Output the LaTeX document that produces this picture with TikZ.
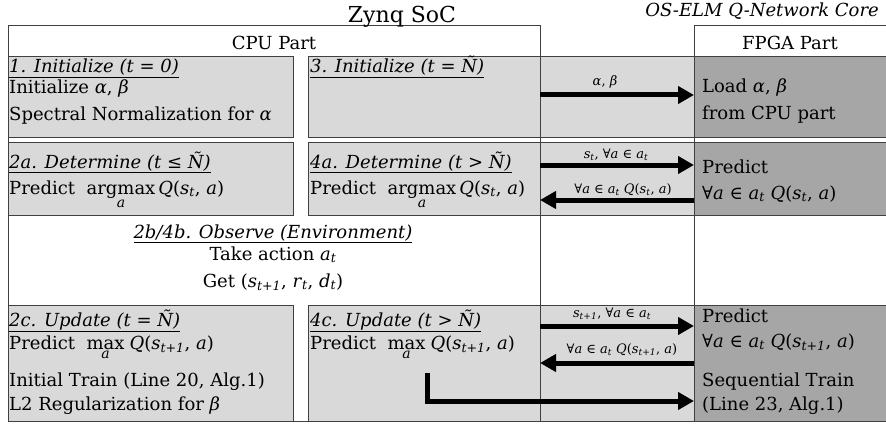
\documentclass[tikz,border=0pt]{standalone}
\usepackage{fontspec}
\setmainfont{DejaVu Serif}
\usetikzlibrary{arrows.meta}
\definecolor{lineC}{HTML}{404040}
\definecolor{lightG}{HTML}{D9D9D9}
\definecolor{darkG}{HTML}{A6A6A6}
\newcommand{\vi}[1]{\textit{#1}}
\newcommand{\sbs}[1]{\textsubscript{\itshape #1}}
\newcommand{\limop}[3]{$\mathop{\hbox{#1}}\limits_{\hbox{\fontsize{#3}{#3}\selectfont\itshape #2}}$}
\begin{document}
\begin{tikzpicture}[x=1pt,y=-1pt,
  lbox/.style={draw=lineC, fill=lightG, line width=1pt, inner sep=0pt, outer sep=0pt, anchor=north west},
  dbox/.style={draw=lineC, fill=darkG, line width=1pt, inner sep=0pt, outer sep=0pt, anchor=north west},
  frm/.style={draw=lineC, line width=1pt},
  txt/.style={anchor=base west, inner sep=0pt, font=\fontsize{18}{21}\selectfont},
  ctxt/.style={anchor=base, inner sep=0pt, font=\fontsize{18}{21}\selectfont},
  lbl/.style={anchor=base, inner sep=0pt, font=\fontsize{13}{15}\selectfont},
  bigarrow/.style={line width=5pt, -{Triangle[length=16pt,width=17pt]}},
]
\useasboundingbox (0,0) rectangle (886,425);
% frames
\path[frm] (8,26) rectangle (540,421);
\path[frm] (694,26) rectangle (890,421);
% row 1
\node[lbox, minimum width=285pt, minimum height=81pt] (b1) at (8,57) {};
\node[lbox, minimum width=386pt, minimum height=81pt] (b3) at (308,57) {};
\node[dbox, minimum width=196pt, minimum height=81pt] (f1) at (694,57) {};
% row 2
\node[lbox, minimum width=285pt, minimum height=72pt] (b2a) at (8,143) {};
\node[lbox, minimum width=386pt, minimum height=72pt] (b4a) at (308,143) {};
\node[dbox, minimum width=196pt, minimum height=72pt] (f2) at (694,143) {};
% row 3
\node[lbox, minimum width=285pt, minimum height=116pt] (b2c) at (8,305) {};
\node[lbox, minimum width=386pt, minimum height=116pt] (b4c) at (308,305) {};
\node[dbox, minimum width=196pt, minimum height=116pt] (f3) at (694,305) {};
% zynq boundary on top
\draw[lineC, line width=1pt] (540,26) -- (540,421);
% titles
\node[anchor=base, inner sep=0pt, font=\fontsize{22}{24}\selectfont] (title) at (402,23) {Zynq SoC};
\node[anchor=base east, inner sep=0pt, font=\itshape\fontsize{18}{20}\selectfont] (core) at (879,17) {OS-ELM Q-Network Core};
\node[ctxt] (cpu) at (274,50) {CPU Part};
\node[ctxt] (fpga) at (790,50) {FPGA Part};
% box 1
\node[txt] (t11) at (9,73) {\underline{\textit{1. Initialize (t = 0)}}};
\node[txt] (t12) at (9,94) {Initialize \vi{α}, \vi{β}};
\node[txt] (t13) at (9,121) {Spectral Normalization for \vi{α}};
% box 3
\node[txt] (t31) at (310,73) {\underline{\textit{3. Initialize (t = Ñ)}}};
% fpga 1
\node[txt] (f11) at (702,93) {Load \vi{α}, \vi{β}};
\node[txt] (f12) at (702,120) {from CPU part};
% box 2a
\node[txt] (t2a1) at (9,168) {\underline{\textit{2a. Determine (t ≤ Ñ)}}};
\node[txt] (t2a2) at (9,194) {Predict\ \ \limop{argmax}{a}{14}\,\vi{Q}(\vi{s}\sbs{t}, \vi{a})};
% box 4a
\node[txt] (t4a1) at (310,168) {\underline{\textit{4a. Determine (t > Ñ)}}};
\node[txt] (t4a2) at (310,194) {Predict\ \ \limop{argmax}{a}{14}\,\vi{Q}(\vi{s}\sbs{t}, \vi{a})};
% fpga 2
\node[txt] (f21) at (702,173) {Predict};
\node[txt] (f22) at (702,199) {∀\vi{a} ∈ \vi{a}\sbs{t} \vi{Q}(\vi{s}\sbs{t}, \vi{a})};
% observe
\node[ctxt] (o1) at (273,238) {\underline{\textit{2b/4b. Observe (Environment)}}};
\node[ctxt] (o2) at (273,260) {Take action \vi{a}\sbs{t}};
\node[ctxt] (o3) at (273,287) {Get (\vi{s}\sbs{t+1}, \vi{r}\sbs{t}, \vi{d}\sbs{t})};
% box 2c
\node[txt] (t2c1) at (9,326) {\underline{\textit{2c. Update (t = Ñ)}}};
\node[txt] (t2c2) at (9,349) {Predict\ \ \limop{max}{a}{14}\;\vi{Q}(\vi{s}\sbs{t+1}, \vi{a})};
\node[txt] (t2c3) at (9,386) {Initial Train (Line 20, Alg.1)};
\node[txt] (t2c4) at (9,410) {L2 Regularization for \vi{β}};
% box 4c
\node[txt] (t4c1) at (310,326) {\underline{\textit{4c. Update (t > Ñ)}}};
\node[txt] (t4c2) at (310,349) {Predict\ \ \limop{max}{a}{14}\;\vi{Q}(\vi{s}\sbs{t+1}, \vi{a})};
% fpga 3
\node[txt] (f31) at (702,322) {Predict};
\node[txt] (f32) at (702,347) {∀\vi{a} ∈ \vi{a}\sbs{t} \vi{Q}(\vi{s}\sbs{t+1}, \vi{a})};
\node[txt] (f33) at (702,386) {Sequential Train};
\node[txt] (f34) at (702,410) {(Line 23, Alg.1)};
% arrow labels
\node[lbl] (l1) at (605,86) {\vi{α}, \vi{β}};
\node[lbl] (l2) at (616,158) {\vi{s}\sbs{t}, ∀\vi{a} ∈ \vi{a}\sbs{t}};
\node[lbl] (l3) at (623,193) {∀\vi{a} ∈ \vi{a}\sbs{t} \vi{Q}(\vi{s}\sbs{t}, \vi{a})};
\node[lbl] (l4) at (612,317) {\vi{s}\sbs{t+1}, ∀\vi{a} ∈ \vi{a}\sbs{t}};
\node[lbl] (l5) at (622,353) {∀\vi{a} ∈ \vi{a}\sbs{t} \vi{Q}(\vi{s}\sbs{t+1}, \vi{a})};
% arrows
\coordinate (a1) at (540,95);
\coordinate (a2) at (540,165);
\coordinate (a3) at (540,200);
\coordinate (a4) at (540,326);
\coordinate (a5) at (540,363);
\coordinate (e0) at (427,373);
\coordinate (e1) at (427,401);
\draw[bigarrow] (a1) -- (a1 -| f1.west);
\draw[bigarrow] (a2) -- (a2 -| f2.west);
\draw[bigarrow] (a3 -| f2.west) -- (a3);
\draw[bigarrow] (a4) -- (a4 -| f3.west);
\draw[bigarrow] (a5 -| f3.west) -- (a5);
\draw[bigarrow] (e0) -- (e1) -- (e1 -| f3.west);
\end{tikzpicture}
\end{document}
